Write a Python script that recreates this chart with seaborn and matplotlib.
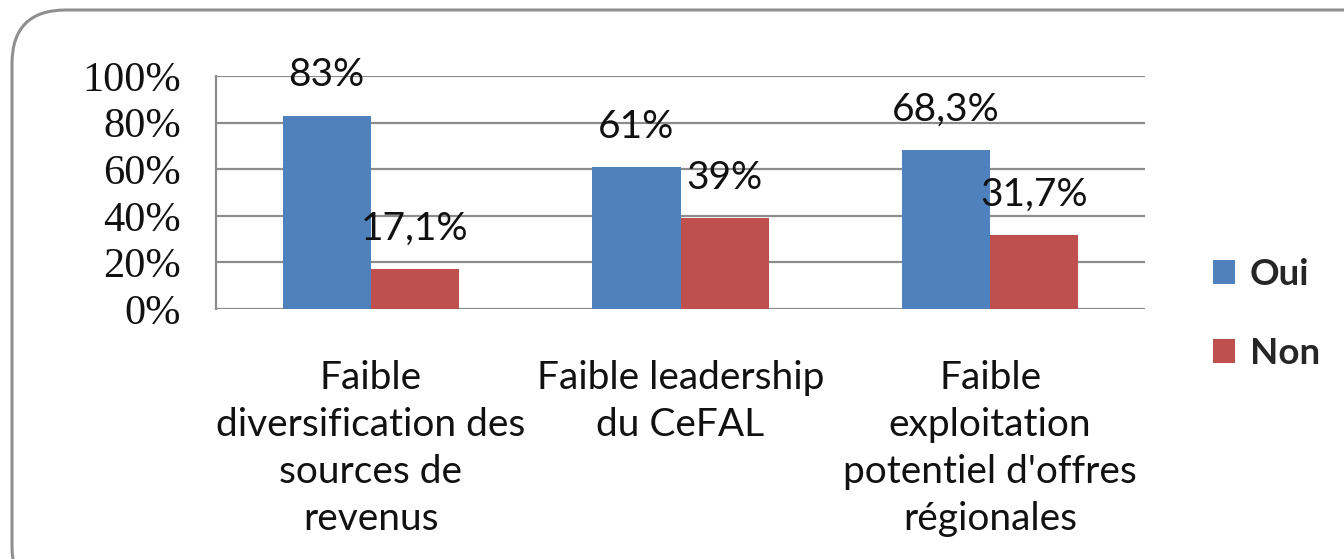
import matplotlib
matplotlib.use("Agg")
import matplotlib.pyplot as plt
import seaborn as sns
import pandas as pd
from matplotlib.patches import FancyBboxPatch, Patch
from matplotlib.ticker import FixedLocator

categories = ["Faible\ndiversification des\nsources de\nrevenus",
              "Faible leadership\ndu CeFAL",
              "Faible\nexploitation\npotentiel d'offres\nrégionales"]
series = ["Oui", "Non"]
oui = [83, 61, 68.3]
non = [17.1, 39, 31.7]
oui_labels = ["83%", "61%", "68,3%"]
non_labels = ["17,1%", "39%", "31,7%"]
yticks = [0, 20, 40, 60, 80, 100]
ytick_labels = ["0%", "20%", "40%", "60%", "80%", "100%"]
colors = {"Oui": "#4F81BD", "Non": "#C0504D"}

df = pd.DataFrame({
    "cat": categories * 2,
    "serie": ["Oui"] * 3 + ["Non"] * 3,
    "val": oui + non,
})

sns.set_style("white")
W, H = 1344, 559
fig = plt.figure(figsize=(W / 100, H / 100), dpi=100)
ax = fig.add_axes([216 / W, 1 - 309 / H, (1145 - 216) / W, (309 - 76) / H])

sns.barplot(data=df, x="cat", y="val", hue="serie", hue_order=series,
            palette=colors, width=0.57, gap=0, saturation=1, ax=ax,
            legend=False, edgecolor="none", linewidth=0)

grid_c = "#8C8C8C"
ax.set_xlim(-0.5, 2.5)
ax.set_ylim(0, 100)
ax.set_xlabel("")
ax.set_ylabel("")
for s in ["top", "right", "bottom"]:
    ax.spines[s].set_visible(False)
ax.spines["left"].set_color(grid_c)
ax.spines["left"].set_linewidth(1.6)
ax.set_axisbelow(True)
for y in yticks:
    ax.axhline(y, color=grid_c, lw=1.6, zorder=0.5)

ax.set_yticks(yticks)
ax.set_yticklabels(ytick_labels, family="Liberation Serif", fontsize=30.5,
                   color="#111111")
ax.tick_params(axis="y", length=11, width=1.6, color=grid_c, pad=14)

ax.set_xticks([0, 1, 2])
ax.set_xticklabels(categories, family="Lato", fontsize=28, linespacing=1.37,
                   color="#111111")
ax.tick_params(axis="x", which="major", length=0, pad=37)
ax.xaxis.set_minor_locator(FixedLocator([-0.5, 0.5, 1.5, 2.5]))
ax.tick_params(axis="x", which="minor", length=10, width=1.6, color=grid_c,
               direction="out")

# data labels
for cont, labs in zip(ax.containers, [oui_labels, non_labels]):
    for bar, lab in zip(cont, labs):
        ax.annotate(lab, (bar.get_x() + bar.get_width() / 2, bar.get_height()),
                    xytext=(0, 29), textcoords="offset points",
                    ha="center", va="center", family="Lato", fontsize=28,
                    color="#111111")

handles = [Patch(facecolor=colors[s], edgecolor="none", label=s) for s in series]
fig.legend(handles=handles, loc="center left",
           bbox_to_anchor=(1180 / W, 1 - 314 / H), frameon=False,
           prop={"family": "Lato", "size": 26.5, "weight": "bold"},
           handlelength=0.6, handleheight=0.6, handletextpad=0.4,
           labelspacing=1.25)

frame = FancyBboxPatch((12 / W, 1 - 600 / H), (1400 - 12) / W, (600 - 10) / H,
                       boxstyle="round,pad=0,rounding_size=0.04",
                       transform=fig.transFigure, facecolor="none",
                       edgecolor="#8F8F8F", lw=2.2, mutation_aspect=W / H)
fig.patches.append(frame)

fig.savefig("out.png", dpi=100)
